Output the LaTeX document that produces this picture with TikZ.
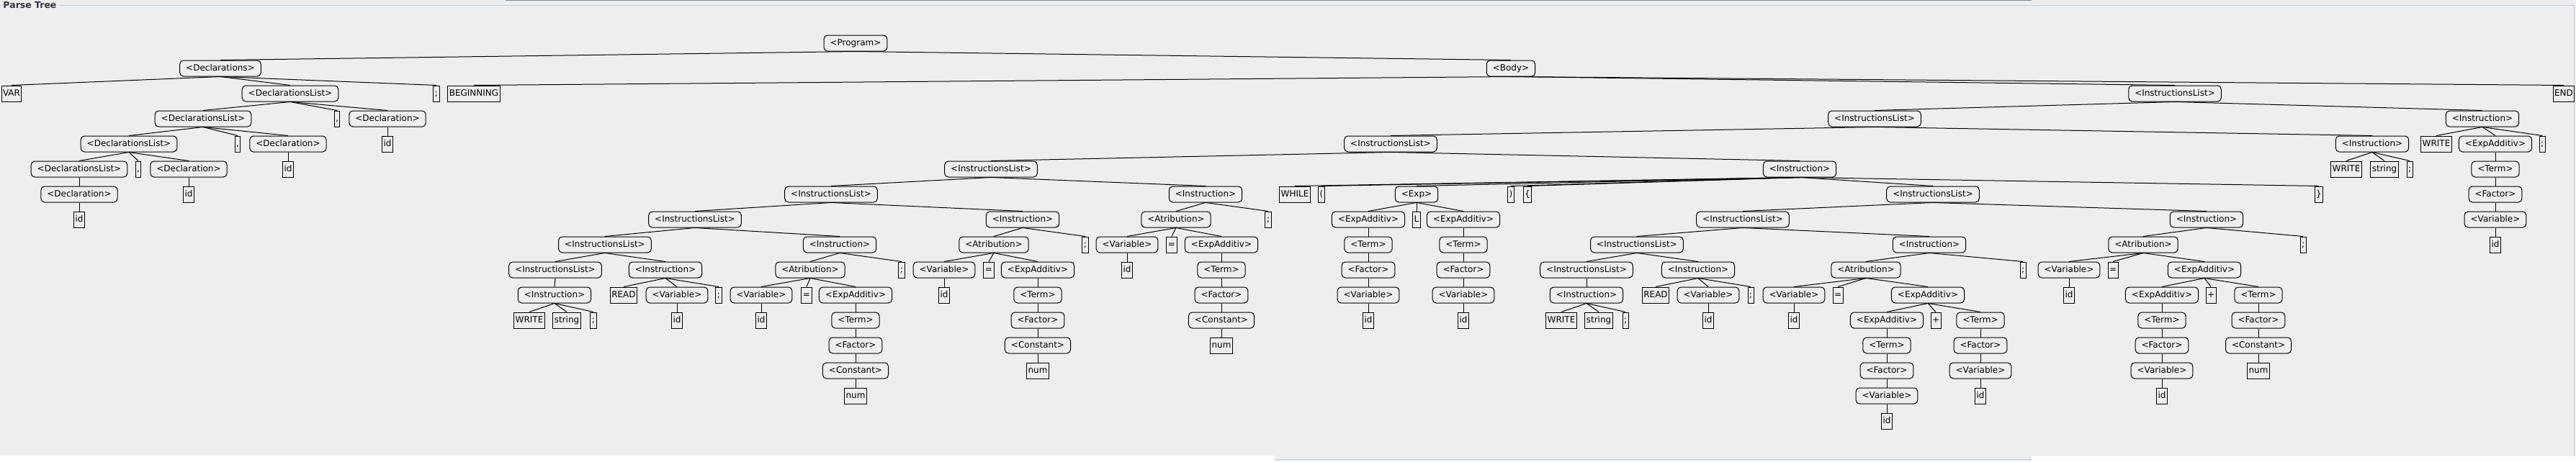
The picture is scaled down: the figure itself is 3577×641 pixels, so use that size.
\documentclass[tikz,border=0pt]{standalone}
\usepackage{fontspec}
\setmainfont{DejaVu Sans}
\usepackage{tikz}

\definecolor{panelbg}{RGB}{238,238,238}
\definecolor{borderblue}{RGB}{184,207,229}
\definecolor{borderdark}{RGB}{122,138,153}
\definecolor{titlecol}{RGB}{51,51,68}
\newcommand{\treefont}{\fontsize{12}{14}\selectfont}

\begin{document}
\begin{tikzpicture}[x=1pt, y=-1pt, line width=1pt,
	nt/.style={draw, rounded corners=5pt, inner xsep=8.5pt, inner ysep=0pt, minimum height=22pt, text height=9pt, text depth=2.5pt, font=\treefont},
	tm/.style={draw, inner xsep=2pt, inner ysep=0pt, minimum height=22pt, text height=9pt, text depth=2.5pt, font=\treefont}]
			\fill[panelbg] (0,0) rectangle (3577,641);
			\useasboundingbox (0,0) rectangle (3577,641);
			\fill[white] (0,633) rectangle (1770,641);
			\fill[white] (2821,634) rectangle (3577,641);
			\draw[borderblue] (1770,638) -- (2821,638);
			\draw[borderdark] (702,0.5) -- (2821,0.5);
			\draw[borderblue] (0,7) -- (3,7);
			\draw[borderblue] (82,7) -- (3574,7) -- (3574,634);
				\node   (title) at (4,7.5) [anchor=west, inner sep=0pt, text=titlecol, font=\fontsize{12.5}{14}\selectfont\bfseries] {Parse Tree};

			\node	(prog) at (1188,60) [nt] {<Program>};

			\node	(decls) at (306,95) [nt] {<Declarations>};
			\node	(body) at (2098,95) [nt] {<Body>};

			\node	(kwvar) at (16,130) [tm] {VAR};
			\node	(dl1) at (403,130) [nt] {<DeclarationsList>};
			\node	(dsemi) at (606,130) [tm] {;};
			\node	(kwbegin) at (658,130) [tm] {BEGINNING};
			\node	(il1) at (3020,130) [nt] {<InstructionsList>};
			\node	(kwend) at (3560,130) [tm] {END};

			\node	(dl2) at (282,165) [nt] {<DeclarationsList>};
			\node	(dcomma1) at (468,165) [tm] {,};
			\node	(decl1) at (538,165) [nt] {<Declaration>};
			\node	(il2) at (2603,165) [nt] {<InstructionsList>};
			\node	(ins1) at (3447,165) [nt] {<Instruction>};

			\node	(dl3) at (179,200) [nt] {<DeclarationsList>};
			\node	(dcomma2) at (330,200) [tm] {,};
			\node	(decl2) at (400,200) [nt] {<Declaration>};
			\node	(id1) at (538,200) [tm] {id};
			\node	(il3) at (1931,200) [nt] {<InstructionsList>};
			\node	(ins2) at (3294,200) [nt] {<Instruction>};
			\node	(write1) at (3383,200) [tm] {WRITE};
			\node	(ea1) at (3465,200) [nt] {<ExpAdditiv>};
			\node	(semi1) at (3530,200) [tm] {;};

			\node	(dl4) at (110,235) [nt] {<DeclarationsList>};
			\node	(dcomma3) at (192,235) [tm] {,};
			\node	(decl3) at (262,235) [nt] {<Declaration>};
			\node	(id2) at (400,235) [tm] {id};
			\node	(il4) at (1376,235) [nt] {<InstructionsList>};
			\node	(insw) at (2499,235) [nt] {<Instruction>};
			\node	(write2) at (3258,235) [tm] {WRITE};
			\node	(str2) at (3311,235) [tm] {string};
			\node	(semi2) at (3346,235) [tm] {;};
			\node	(term1) at (3465,235) [nt] {<Term>};

			\node	(decl4) at (110,270) [nt] {<Declaration>};
			\node	(id3) at (262,270) [tm] {id};
			\node	(il5) at (1154,270) [nt] {<InstructionsList>};
			\node	(ins3) at (1674,270) [nt] {<Instruction>};
			\node	(kwwhile) at (1798,270) [tm] {WHILE};
			\node	(lpar) at (1835,270) [tm] {(};
			\node	(exp) at (1967,270) [nt] {<Exp>};
			\node	(rpar) at (2098,270) [tm] {)};
			\node	(lbr) at (2121,270) [tm] {\{};
			\node	(il6) at (2684,270) [nt] {<InstructionsList>};
			\node	(rbr) at (3220,270) [tm] {\}};
			\node	(fac1) at (3465,270) [nt] {<Factor>};

			\node	(id4) at (110,305) [tm] {id};
			\node	(il7) at (965,305) [nt] {<InstructionsList>};
			\node	(ins4) at (1420,305) [nt] {<Instruction>};
			\node	(atr3) at (1633,305) [nt] {<Atribution>};
			\node	(semi3) at (1761,305) [tm] {;};
			\node	(ea2) at (1900,305) [nt] {<ExpAdditiv>};
			\node	(lop) at (1967,305) [tm] {L};
			\node	(ea3) at (2032,305) [nt] {<ExpAdditiv>};
			\node	(il8) at (2420,305) [nt] {<InstructionsList>};
			\node	(ins5) at (3064,305) [nt] {<Instruction>};
			\node	(var1) at (3465,305) [nt] {<Variable>};

			\node	(il9) at (840,340) [nt] {<InstructionsList>};
			\node	(ins6) at (1166,340) [nt] {<Instruction>};
			\node	(atr4) at (1380,340) [nt] {<Atribution>};
			\node	(semi4) at (1507,340) [tm] {;};
			\node	(var3) at (1565,340) [nt] {<Variable>};
			\node	(eq3) at (1627,340) [tm] {=};
			\node	(ea4) at (1696,340) [nt] {<ExpAdditiv>};
			\node	(term2) at (1900,340) [nt] {<Term>};
			\node	(term3) at (2032,340) [nt] {<Term>};
			\node	(il10) at (2273,340) [nt] {<InstructionsList>};
			\node	(ins7) at (2679,340) [nt] {<Instruction>};
			\node	(atr5) at (2976,340) [nt] {<Atribution>};
			\node	(semi5) at (3198,340) [tm] {;};
			\node	(id5) at (3465,340) [tm] {id};

			\node	(il11) at (771,375) [nt] {<InstructionsList>};
			\node	(ins8) at (924,375) [nt] {<Instruction>};
			\node	(atr6) at (1125,375) [nt] {<Atribution>};
			\node	(semi6) at (1252,375) [tm] {;};
			\node	(var4) at (1311,375) [nt] {<Variable>};
			\node	(eq4) at (1373,375) [tm] {=};
			\node	(ea5) at (1441,375) [nt] {<ExpAdditiv>};
			\node	(id6) at (1565,375) [tm] {id};
			\node	(term4) at (1696,375) [nt] {<Term>};
			\node	(fac2) at (1900,375) [nt] {<Factor>};
			\node	(fac3) at (2032,375) [nt] {<Factor>};
			\node	(il12) at (2203,375) [nt] {<InstructionsList>};
			\node	(ins9) at (2358,375) [nt] {<Instruction>};
			\node	(atr7) at (2591,375) [nt] {<Atribution>};
			\node	(semi7) at (2809,375) [tm] {;};
			\node	(var5) at (2873,375) [nt] {<Variable>};
			\node	(eq5) at (2934,375) [tm] {=};
			\node	(ea6) at (3061,375) [nt] {<ExpAdditiv>};

			\node	(ins10) at (770,410) [nt] {<Instruction>};
			\node	(read1) at (866,410) [tm] {READ};
			\node	(var6) at (940,410) [nt] {<Variable>};
			\node	(semi8) at (998,410) [tm] {;};
			\node	(var7) at (1057,410) [nt] {<Variable>};
			\node	(eq6) at (1120,410) [tm] {=};
			\node	(ea7) at (1188,410) [nt] {<ExpAdditiv>};
			\node	(id7) at (1311,410) [tm] {id};
			\node	(term5) at (1441,410) [nt] {<Term>};
			\node	(fac4) at (1696,410) [nt] {<Factor>};
			\node	(var8) at (1900,410) [nt] {<Variable>};
			\node	(var9) at (2032,410) [nt] {<Variable>};
			\node	(ins11) at (2203,410) [nt] {<Instruction>};
			\node	(read2) at (2299,410) [tm] {READ};
			\node	(var10) at (2372,410) [nt] {<Variable>};
			\node	(semi9) at (2431,410) [tm] {;};
			\node	(var11) at (2491,410) [nt] {<Variable>};
			\node	(eq7) at (2552,410) [tm] {=};
			\node	(ea8) at (2677,410) [nt] {<ExpAdditiv>};
			\node	(id8) at (2873,410) [tm] {id};
			\node	(ea9) at (3002,410) [nt] {<ExpAdditiv>};
			\node	(plus1) at (3070,410) [tm] {+};
			\node	(term6) at (3136,410) [nt] {<Term>};

			\node	(write3) at (735,445) [tm] {WRITE};
			\node	(str3) at (787,445) [tm] {string};
			\node	(semi10) at (824,445) [tm] {;};
			\node	(id9) at (940,445) [tm] {id};
			\node	(id10) at (1057,445) [tm] {id};
			\node	(term7) at (1188,445) [nt] {<Term>};
			\node	(fac5) at (1441,445) [nt] {<Factor>};
			\node	(con1) at (1696,445) [nt] {<Constant>};
			\node	(id11) at (1900,445) [tm] {id};
			\node	(id12) at (2032,445) [tm] {id};
			\node	(write4) at (2168,445) [tm] {WRITE};
			\node	(str4) at (2220,445) [tm] {string};
			\node	(semi11) at (2257,445) [tm] {;};
			\node	(id13) at (2372,445) [tm] {id};
			\node	(id14) at (2491,445) [tm] {id};
			\node	(ea10) at (2620,445) [nt] {<ExpAdditiv>};
			\node	(plus2) at (2688,445) [tm] {+};
			\node	(term8) at (2750,445) [nt] {<Term>};
			\node	(term9) at (3002,445) [nt] {<Term>};
			\node	(fac6) at (3136,445) [nt] {<Factor>};

			\node	(fac7) at (1188,480) [nt] {<Factor>};
			\node	(con2) at (1441,480) [nt] {<Constant>};
			\node	(num1) at (1696,480) [tm] {num};
			\node	(term10) at (2620,480) [nt] {<Term>};
			\node	(fac8) at (2750,480) [nt] {<Factor>};
			\node	(fac9) at (3002,480) [nt] {<Factor>};
			\node	(con3) at (3136,480) [nt] {<Constant>};

			\node	(con4) at (1188,515) [nt] {<Constant>};
			\node	(num2) at (1441,515) [tm] {num};
			\node	(fac10) at (2620,515) [nt] {<Factor>};
			\node	(var12) at (2750,515) [nt] {<Variable>};
			\node	(var13) at (3002,515) [nt] {<Variable>};
			\node	(num3) at (3136,515) [tm] {num};

			\node	(num4) at (1188,550) [tm] {num};
			\node	(var14) at (2620,550) [nt] {<Variable>};
			\node	(id15) at (2750,550) [tm] {id};
			\node	(id16) at (3002,550) [tm] {id};

			\node	(id17) at (2620,585) [tm] {id};

			\draw
			(prog.south) edge (decls.north)
			(prog.south) edge (body.north)
			(decls.south) edge (kwvar.north)
			(decls.south) edge (dl1.north)
			(decls.south) edge (dsemi.north)
			(dl1.south) edge (dl2.north)
			(dl1.south) edge (dcomma1.north)
			(dl1.south) edge (decl1.north)
			(decl1.south) edge (id1.north)
			(dl2.south) edge (dl3.north)
			(dl2.south) edge (dcomma2.north)
			(dl2.south) edge (decl2.north)
			(decl2.south) edge (id2.north)
			(dl3.south) edge (dl4.north)
			(dl3.south) edge (dcomma3.north)
			(dl3.south) edge (decl3.north)
			(decl3.south) edge (id3.north)
			(dl4.south) edge (decl4.north)
			(decl4.south) edge (id4.north)
			(body.south) edge (kwbegin.north)
			(body.south) edge (il1.north)
			(body.south) edge (kwend.north)
			(il1.south) edge (il2.north)
			(il1.south) edge (ins1.north)
			(ins1.south) edge (write1.north)
			(ins1.south) edge (ea1.north)
			(ins1.south) edge (semi1.north)
			(ea1.south) edge (term1.north)
			(term1.south) edge (fac1.north)
			(fac1.south) edge (var1.north)
			(var1.south) edge (id5.north)
			(il2.south) edge (il3.north)
			(il2.south) edge (ins2.north)
			(ins2.south) edge (write2.north)
			(ins2.south) edge (str2.north)
			(ins2.south) edge (semi2.north)
			(il3.south) edge (il4.north)
			(il3.south) edge (insw.north)
			(il4.south) edge (il5.north)
			(il4.south) edge (ins3.north)
			(ins3.south) edge (atr3.north)
			(ins3.south) edge (semi3.north)
			(atr3.south) edge (var3.north)
			(atr3.south) edge (eq3.north)
			(atr3.south) edge (ea4.north)
			(var3.south) edge (id6.north)
			(ea4.south) edge (term4.north)
			(term4.south) edge (fac4.north)
			(fac4.south) edge (con1.north)
			(con1.south) edge (num1.north)
			(il5.south) edge (il7.north)
			(il5.south) edge (ins4.north)
			(ins4.south) edge (atr4.north)
			(ins4.south) edge (semi4.north)
			(atr4.south) edge (var4.north)
			(atr4.south) edge (eq4.north)
			(atr4.south) edge (ea5.north)
			(var4.south) edge (id7.north)
			(ea5.south) edge (term5.north)
			(term5.south) edge (fac5.north)
			(fac5.south) edge (con2.north)
			(con2.south) edge (num2.north)
			(il7.south) edge (il9.north)
			(il7.south) edge (ins6.north)
			(ins6.south) edge (atr6.north)
			(ins6.south) edge (semi6.north)
			(atr6.south) edge (var7.north)
			(atr6.south) edge (eq6.north)
			(atr6.south) edge (ea7.north)
			(var7.south) edge (id10.north)
			(ea7.south) edge (term7.north)
			(term7.south) edge (fac7.north)
			(fac7.south) edge (con4.north)
			(con4.south) edge (num4.north)
			(il9.south) edge (il11.north)
			(il9.south) edge (ins8.north)
			(ins8.south) edge (read1.north)
			(ins8.south) edge (var6.north)
			(ins8.south) edge (semi8.north)
			(var6.south) edge (id9.north)
			(il11.south) edge (ins10.north)
			(ins10.south) edge (write3.north)
			(ins10.south) edge (str3.north)
			(ins10.south) edge (semi10.north)
			(insw.south) edge (kwwhile.north)
			(insw.south) edge (lpar.north)
			(insw.south) edge (exp.north)
			(insw.south) edge (rpar.north)
			(insw.south) edge (lbr.north)
			(insw.south) edge (il6.north)
			(insw.south) edge (rbr.north)
			(exp.south) edge (ea2.north)
			(exp.south) edge (lop.north)
			(exp.south) edge (ea3.north)
			(ea2.south) edge (term2.north)
			(term2.south) edge (fac2.north)
			(fac2.south) edge (var8.north)
			(var8.south) edge (id11.north)
			(ea3.south) edge (term3.north)
			(term3.south) edge (fac3.north)
			(fac3.south) edge (var9.north)
			(var9.south) edge (id12.north)
			(il6.south) edge (il8.north)
			(il6.south) edge (ins5.north)
			(ins5.south) edge (atr5.north)
			(ins5.south) edge (semi5.north)
			(atr5.south) edge (var5.north)
			(atr5.south) edge (eq5.north)
			(atr5.south) edge (ea6.north)
			(var5.south) edge (id8.north)
			(ea6.south) edge (ea9.north)
			(ea6.south) edge (plus1.north)
			(ea6.south) edge (term6.north)
			(ea9.south) edge (term9.north)
			(term9.south) edge (fac9.north)
			(fac9.south) edge (var13.north)
			(var13.south) edge (id16.north)
			(term6.south) edge (fac6.north)
			(fac6.south) edge (con3.north)
			(con3.south) edge (num3.north)
			(il8.south) edge (il10.north)
			(il8.south) edge (ins7.north)
			(ins7.south) edge (atr7.north)
			(ins7.south) edge (semi7.north)
			(atr7.south) edge (var11.north)
			(atr7.south) edge (eq7.north)
			(atr7.south) edge (ea8.north)
			(var11.south) edge (id14.north)
			(ea8.south) edge (ea10.north)
			(ea8.south) edge (plus2.north)
			(ea8.south) edge (term8.north)
			(ea10.south) edge (term10.north)
			(term10.south) edge (fac10.north)
			(fac10.south) edge (var14.north)
			(var14.south) edge (id17.north)
			(term8.south) edge (fac8.north)
			(fac8.south) edge (var12.north)
			(var12.south) edge (id15.north)
			(il10.south) edge (il12.north)
			(il10.south) edge (ins9.north)
			(ins9.south) edge (read2.north)
			(ins9.south) edge (var10.north)
			(ins9.south) edge (semi9.north)
			(var10.south) edge (id13.north)
			(il12.south) edge (ins11.north)
			(ins11.south) edge (write4.north)
			(ins11.south) edge (str4.north)
			(ins11.south) edge (semi11.north)
			;
		\end{tikzpicture}
\end{document}
